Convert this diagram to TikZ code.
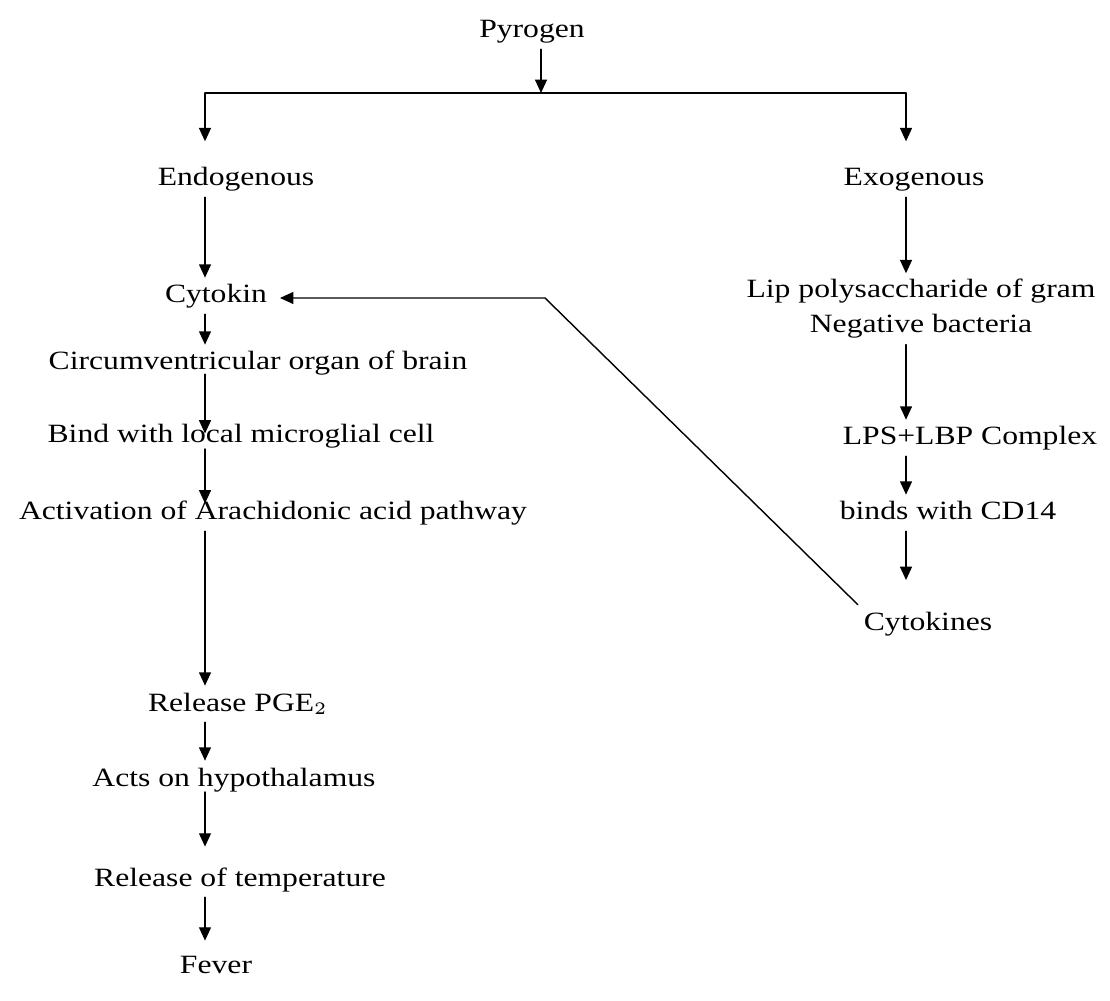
\documentclass[tikz,border=0pt]{standalone}
\usepackage{fontspec}
\setmainfont{Liberation Serif}[FakeStretch=1.2]
\usetikzlibrary{arrows.meta}
\begin{document}
\begin{tikzpicture}[line cap=round, line join=round, font=\fontsize{7.5}{10}\selectfont, >={Stealth[length=3.8pt,width=3.4pt,inset=0pt]}, x=0.01cm, y=-0.01cm]
	\tikzset{stage/.style={anchor=base, inner sep=1.5pt, text height=5.5pt, text depth=1.5pt}}
	\useasboundingbox (0,0) rectangle (1110,1001);
	\node[stage] (pyrogen) at (532,38) {Pyrogen};
	\coordinate (bar) at (541,93);
	\coordinate (barL) at (205,93);
	\coordinate (barR) at (906,93);
	% endogenous column
	\node[stage] (endo) at (236,186) {Endogenous};
	\node[stage] (cytokin) at (216,303) {Cytokin};
	\node[stage] (circ) at (258,370) {Circumventricular organ of brain};
	\node[stage] (bind) at (241,443) {Bind with local microglial cell};
	\node[stage] (act) at (273,520) {Activation of Arachidonic acid pathway};
	\node[stage] (pge) at (238,711) {Release PGE$_2$};
	\node[stage] (acts) at (234,786) {Acts on hypothalamus};
	\node[stage] (reltemp) at (240,886) {Release of temperature};
	\node[stage] (fever) at (216,973) {Fever};
	% exogenous column
	\node[stage] (exo) at (914,186) {Exogenous};
	\node[stage, align=center, text height=, text depth=] (lip) at (921,333) {Lip polysaccharide of gram\\Negative bacteria};
	\node[stage] (lps) at (970,445) {LPS+LBP Complex};
	\node[stage] (binds) at (948,520) {binds with CD14};
	\node[stage] (cytokines) at (928,630) {Cytokines};
	\coordinate (kink) at (545,298);
	% connectors
	\draw[->] (pyrogen.south -| bar) -- (bar);
	\draw (barL) -- (barR);
	\draw[->, shorten >=5.5pt] (barL) -- (barL |- endo.north);
	\draw[->, shorten >=5.5pt] (barR) -- (barR |- exo.north);
	\draw[->] (endo.south -| barL) -- (cytokin.north -| barL);
	\draw[->] (cytokin.south -| barL) -- (circ.north -| barL);
	\draw[->, shorten <=-2pt, shorten >=-4.5pt] (circ.south -| barL) -- (bind.north -| barL);
	\draw[->, shorten <=-1.5pt, shorten >=-2.5pt] (bind.south -| barL) -- (act.north -| barL);
	\draw[->] (act.south -| barL) -- (pge.north -| barL);
	\draw[->] (pge.south -| barL) -- (acts.north -| barL);
	\draw[->, shorten <=-1.5pt, shorten >=4pt] (acts.south -| barL) -- (reltemp.north -| barL);
	\draw[->, shorten >=2pt] (reltemp.south -| barL) -- (fever.north -| barL);
	\draw[->] (exo.south -| barR) -- (lip.north -| barR);
	\draw[->] (lip.south -| barR) -- (lps.north -| barR);
	\draw[->] (lps.south -| barR) -- (binds.north -| barR);
	\draw[->, shorten >=7pt] (binds.south -| barR) -- (cytokines.north -| barR);
	\draw[->, shorten >=2pt] (cytokines.north west) -- (kink) -- (kink -| cytokin.east);
\end{tikzpicture}
\end{document}
